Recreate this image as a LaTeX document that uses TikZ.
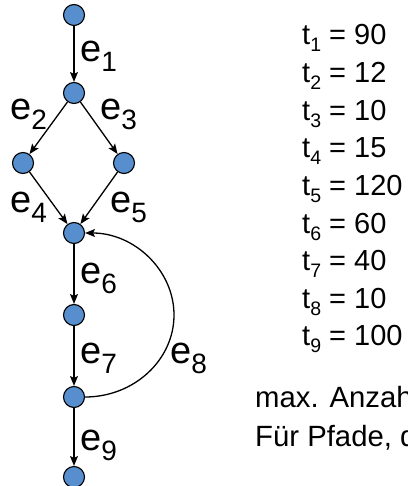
\documentclass[tikz,border=0pt]{standalone}
\usepackage{fontspec}
\setmainfont{Liberation Sans}
\usetikzlibrary{arrows.meta}
\definecolor{nodeblue}{RGB}{86,142,206}
\tikzset{
  vert/.style={circle, draw=black, line width=1.1pt, fill=nodeblue, minimum size=21pt, inner sep=0pt},
  edge/.style={line width=1.3pt, -{Stealth[length=10pt,width=8pt,inset=2pt]}},
  elab/.style={anchor=base west, inner sep=0pt, font=\fontsize{38}{40}\selectfont},
  tlab/.style={anchor=base west, inner sep=0pt, font=\fontsize{29}{31}\selectfont},
  txt/.style={anchor=base west, inner sep=0pt, font=\fontsize{29.3}{31}\selectfont}
}
\newcommand{\esub}[1]{\raisebox{-10pt}{\fontsize{28}{28}\selectfont #1}}
\newcommand{\tsub}[1]{\raisebox{-7pt}{\fontsize{19.5}{19.5}\selectfont #1}}
\begin{document}
\begin{tikzpicture}[x=1pt,y=-1pt]
\useasboundingbox (0,0) rectangle (407,486);
\node[vert] (n1) at (74,15) {};
\node[vert] (n2) at (74,93) {};
\node[vert] (n3) at (23,163) {};
\node[vert] (n4) at (124,163) {};
\node[vert] (n5) at (74,233) {};
\node[vert] (n6) at (74,315) {};
\node[vert] (n7) at (74,397) {};
\node[vert] (n8) at (74,477) {};
\draw[edge] (n1) -- (n2);
\draw[edge] (n2) -- (n3);
\draw[edge] (n2) -- (n4);
\draw[edge] (n3) -- (n5);
\draw[edge] (n4) -- (n5);
\draw[edge] (n5) -- (n6);
\draw[edge] (n6) -- (n7);
\draw[edge] (n7) -- (n8);
\coordinate (mid) at (174,315);
\draw[edge] (n7.east) .. controls +(49,0) and +(0,45) .. (mid)
  .. controls +(0,-45) and +(49,0) .. (n5.east);
% edge labels
\node[elab] (e1) at (80,62) {e\esub{1}};
\node[elab] (e2) at (10,120) {e\esub{2}};
\node[elab] (e3) at (100,120) {e\esub{3}};
\node[elab] (e4) at (10,212) {e\esub{4}};
\node[elab] (e5) at (110,212) {e\esub{5}};
\node[elab] (e6) at (80,283) {e\esub{6}};
\node[elab] (e7) at (80,363) {e\esub{7}};
\node[elab] (e8) at (170,363) {e\esub{8}};
\node[elab] (e9) at (80,450) {e\esub{9}};
% t values
\node[tlab] (t1) at (302,45) {t\tsub{1} = 90};
\node[tlab] (t2) at (302,82.6) {t\tsub{2} = 12};
\node[tlab] (t3) at (302,120.2) {t\tsub{3} = 10};
\node[tlab] (t4) at (302,157.8) {t\tsub{4} = 15};
\node[tlab] (t5) at (302,195.4) {t\tsub{5} = 120};
\node[tlab] (t6) at (302,233) {t\tsub{6} = 60};
\node[tlab] (t7) at (302,270.6) {t\tsub{7} = 40};
\node[tlab] (t8) at (302,308.2) {t\tsub{8} = 10};
\node[tlab] (t9) at (302,345.8) {t\tsub{9} = 100};
% bottom text (cut off at the right edge, as in the reference)
\node[txt] (m1) at (255,407) {max. Anzahl};
\node[txt] (m2) at (255,446) {Für Pfade, die};
\end{tikzpicture}
\end{document}
